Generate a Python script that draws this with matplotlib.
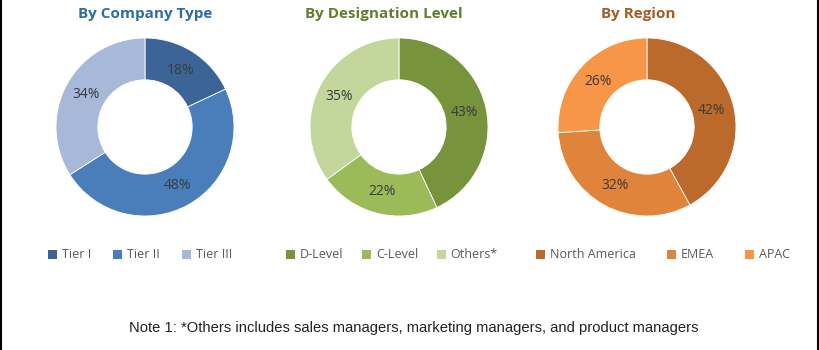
import matplotlib.pyplot as plt
from matplotlib.patches import Patch
import numpy as np

# data
company_labels = ["Tier I", "Tier II", "Tier III"]
company_values = [18, 48, 34]
company_colors = ["#3C6496", "#4A7EBB", "#A7B9D9"]

designation_labels = ["D-Level", "C-Level", "Others*"]
designation_values = [43, 22, 35]
designation_colors = ["#77933C", "#9BBB59", "#C3D69B"]

region_labels = ["North America", "EMEA", "APAC"]
region_values = [42, 32, 26]
region_colors = ["#BC6A2C", "#E0843C", "#F79646"]

W, H = 820, 350
fig = plt.figure(figsize=(W / 100, H / 100), dpi=100)
fig.patch.set_facecolor("white")

# title, title colour, labels, values, colours, donut centre, title x, legend x, column spacing
charts = [
    ("By Company Type", "#2E6DA4", company_labels, company_values, company_colors, (145, 127), 145, 140, 1.8),
    ("By Designation Level", "#5F7F2E", designation_labels, designation_values, designation_colors, (399, 127), 384, 392, 1.5),
    ("By Region", "#A85B22", region_labels, region_values, region_colors, (647, 127), 638, 663, 2.5),
]

R = 89
for title, tcolor, labels, values, colors, (cx, cy), tx, lx, colsp in charts:
    ax = fig.add_axes([(cx - R) / W, (H - cy - R) / H, 2 * R / W, 2 * R / H])
    ax.pie(values, colors=colors, startangle=90, counterclock=False, radius=1,
           wedgeprops=dict(width=0.47, edgecolor="white", linewidth=0.6))
    tot = sum(values)
    start = 90.0
    for v in values:
        mid = np.deg2rad(start - v / tot * 180)
        ax.text(0.75 * np.cos(mid), 0.75 * np.sin(mid), f"{v}%", ha="center", va="center",
                fontsize=10, color="#3a3a3a", family="Open Sans")
        start -= v / tot * 360
    ax.set_xlim(-1, 1)
    ax.set_ylim(-1, 1)
    ax.set_aspect("equal")
    ax.axis("off")

    fig.text(tx / W, 1 - 14 / H, title, ha="center", va="center", fontsize=11,
             fontweight="bold", color=tcolor, family="Open Sans")

    handles = [Patch(facecolor=c, edgecolor="none") for c in colors]
    leg = fig.legend(handles, labels, loc="center", bbox_to_anchor=(lx / W, 1 - 255 / H),
                     ncol=3, frameon=False, handlelength=0.7, handleheight=0.7,
                     handletextpad=0.4, columnspacing=colsp,
                     prop={"family": "Open Sans", "size": 9})
    for t in leg.get_texts():
        t.set_color("#595959")

fig.text(414 / W, 1 - 328 / H,
         "Note 1: *Others includes sales managers, marketing managers, and product managers",
         ha="center", va="center", fontsize=10.6, color="#222222", family="Liberation Sans")

# thin black borders at left and right
fig.add_artist(plt.Line2D([0.7 / W, 0.7 / W], [0, 1], color="black", lw=1.5))
fig.add_artist(plt.Line2D([1 - 1.5 / W, 1 - 1.5 / W], [0, 1], color="black", lw=1.5))

fig.savefig("out.png", dpi=100)
